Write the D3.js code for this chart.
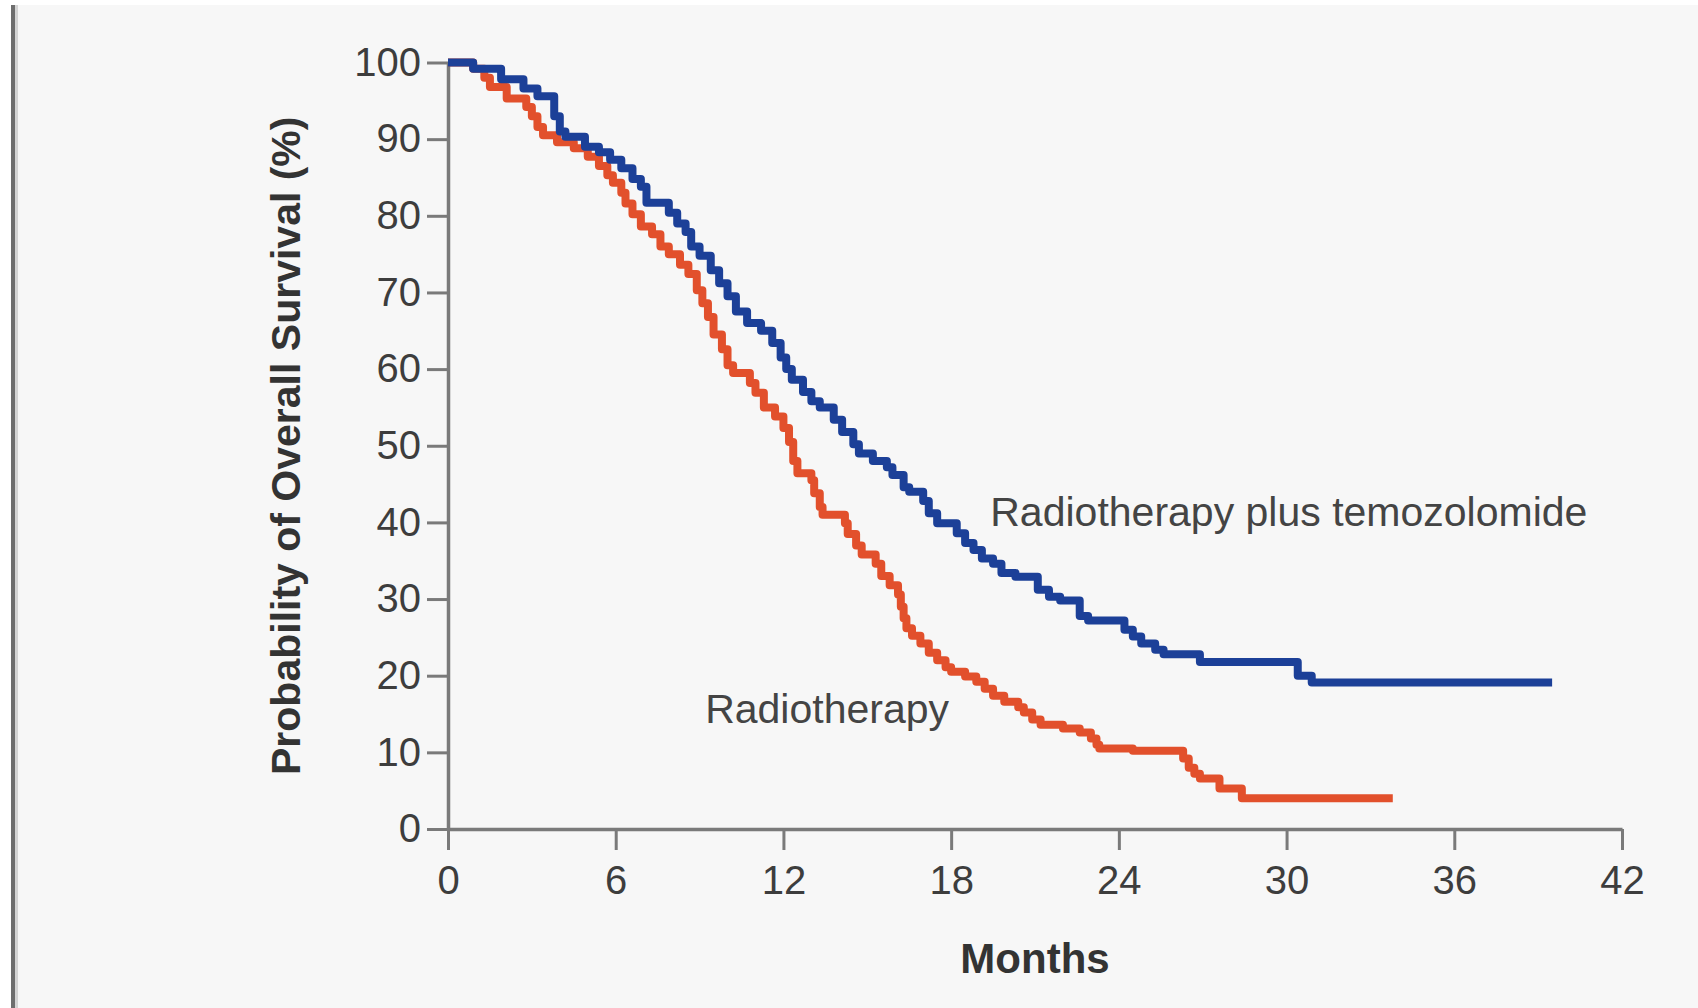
<!DOCTYPE html>
<html lang="en">
<head>
  <meta charset="UTF-8">
  <title>Overall Survival: Radiotherapy vs Radiotherapy plus Temozolomide</title>
  <script src="https://d3js.org/d3.v7.min.js"></script>
  <style>
    body {
      margin: 0;
      padding: 0;
      background: #ffffff;
      font-family: "Liberation Sans", Arial, sans-serif;
    }
    .tick text {
      fill: #3d3d3d;
    }
  </style>
</head>
<body>
  <div id="chart"></div>

  <script>
    // Kaplan-Meier steps: [month, % surviving from that month on]
    const rtTmz = [
      [0, 100], [0.9, 99.2], [1.9, 97.8], [2.7, 96.6], [3.2, 95.6], [3.8, 93.0], [4.0, 91.0],
      [4.2, 90.3], [4.9, 89.0], [5.4, 88.3], [5.8, 87.3], [6.2, 86.2], [6.6, 84.8], [6.9, 83.8],
      [7.1, 81.7], [7.9, 80.4], [8.2, 79.0], [8.5, 77.9], [8.7, 76.0], [9.0, 74.8], [9.4, 72.9],
      [9.7, 71.2], [10.0, 69.5], [10.3, 67.5], [10.7, 66.0], [11.2, 65.0], [11.6, 63.4],
      [11.9, 61.5], [12.1, 60.0], [12.3, 58.6], [12.7, 57.0], [13.0, 55.8], [13.3, 55.0],
      [13.8, 53.4], [14.1, 51.8], [14.5, 50.2], [14.7, 49.0], [15.2, 48.0], [15.7, 47.2],
      [15.9, 46.2], [16.3, 44.6], [16.5, 44.0], [17.0, 42.8], [17.2, 41.2], [17.5, 39.9],
      [18.2, 38.6], [18.5, 37.3], [18.8, 36.4], [19.1, 35.3], [19.5, 34.6], [19.8, 33.4],
      [20.3, 32.9], [21.1, 31.2], [21.5, 30.3], [21.9, 29.8], [22.6, 27.8], [22.9, 27.2],
      [24.2, 26.0], [24.5, 25.1], [24.8, 24.2], [25.3, 23.4], [25.6, 22.8], [26.9, 21.8],
      [30.4, 20.0], [30.9, 19.1], [39.5, 19.1]
    ];

    const rtOnly = [
      [0, 100], [0.9, 99.2], [1.3, 98.0], [1.5, 96.8], [2.1, 95.3], [2.8, 94.2], [3.0, 93.0],
      [3.2, 91.6], [3.4, 90.5], [3.9, 89.6], [4.5, 88.8], [5.0, 87.7], [5.4, 86.5], [5.7, 85.3],
      [5.9, 84.3], [6.2, 83.0], [6.35, 81.6], [6.6, 80.2], [6.9, 78.6], [7.3, 77.6], [7.6, 76.0],
      [7.9, 75.0], [8.3, 73.6], [8.6, 72.4], [8.9, 70.3], [9.1, 68.6], [9.3, 66.8], [9.5, 64.5],
      [9.8, 62.6], [10.0, 60.5], [10.2, 59.5], [10.8, 58.2], [11.0, 56.9], [11.3, 55.0],
      [11.7, 53.8], [12.0, 52.3], [12.2, 50.5], [12.35, 48.0], [12.5, 46.4], [13.0, 45.5],
      [13.1, 43.8], [13.3, 42.0], [13.4, 41.0], [14.2, 39.9], [14.3, 38.5], [14.6, 37.0],
      [14.8, 35.8], [15.3, 34.6], [15.5, 33.0], [15.8, 31.8], [16.1, 30.6], [16.2, 29.0],
      [16.3, 27.5], [16.4, 26.2], [16.6, 25.2], [16.9, 24.2], [17.2, 23.0], [17.5, 22.0],
      [17.8, 21.1], [18.0, 20.5], [18.5, 19.9], [18.9, 19.2], [19.2, 18.3], [19.5, 17.4],
      [19.9, 16.6], [20.4, 15.9], [20.6, 15.2], [20.9, 14.3], [21.2, 13.6], [22.0, 13.1],
      [22.6, 12.6], [23.0, 11.8], [23.2, 11.0], [23.3, 10.5], [24.5, 10.2], [26.3, 9.2],
      [26.5, 8.0], [26.7, 7.2], [26.9, 6.6], [27.6, 5.3], [28.4, 4.0], [33.8, 4.0]
    ];

    const monthTicks = [0, 6, 12, 18, 24, 30, 36, 42];
    const survivalTicks = [0, 10, 20, 30, 40, 50, 60, 70, 80, 90, 100];

    const seriesLabels = [
      { name: "Radiotherapy plus temozolomide", month: 19.4, value: 39.5 },
      { name: "Radiotherapy", month: 9.2, value: 13.8 }
    ];

    const width = 1698;
    const height = 1008;
    const margin = { top: 62.5, right: 76, bottom: 179, left: 448 };

    const svg = d3.select("#chart")
      .append("svg")
      .attr("width", width)
      .attr("height", height);

    // panel background and the grey rule on the left edge
    svg.append("rect")
      .attr("x", 11).attr("y", 5)
      .attr("width", width - 11).attr("height", height - 5)
      .attr("fill", "#f7f7f7");
    svg.append("rect")
      .attr("x", 11).attr("y", 5)
      .attr("width", 4).attr("height", height - 5)
      .attr("fill", "#6e6e6e");
    svg.append("rect")
      .attr("x", 15).attr("y", 5)
      .attr("width", 3).attr("height", height - 5)
      .attr("fill", "#d4d4d4");

    const x = d3.scaleLinear()
      .domain([0, 42])
      .range([margin.left, width - margin.right]);

    const y = d3.scaleLinear()
      .domain([0, 100])
      .range([height - margin.bottom, margin.top]);

    // axes
    const xAxis = svg.append("g")
      .attr("transform", `translate(0,${y(0)})`)
      .call(d3.axisBottom(x).tickValues(monthTicks).tickSize(21).tickSizeOuter(0).tickPadding(16));

    const yAxis = svg.append("g")
      .attr("transform", `translate(${x(0)},0)`)
      .call(d3.axisLeft(y).tickValues(survivalTicks).tickSize(21).tickSizeOuter(0).tickPadding(6));

    [xAxis, yAxis].forEach(ax => {
      ax.select(".domain").attr("stroke", "#7a7a7a").attr("stroke-width", 3.5);
      ax.selectAll(".tick line").attr("stroke", "#7a7a7a").attr("stroke-width", 3);
      ax.selectAll(".tick text")
        .style("font-family", "'Liberation Sans', Arial, sans-serif")
        .style("font-size", "40px");
    });

    // survival curves
    const line = d3.line()
      .x(d => x(d[0]))
      .y(d => y(d[1]))
      .curve(d3.curveStepAfter);

    svg.append("path")
      .datum(rtOnly)
      .attr("fill", "none")
      .attr("stroke", "#e2502c")
      .attr("stroke-width", 8)
      .attr("stroke-linejoin", "round")
      .attr("d", line);

    svg.append("path")
      .datum(rtTmz)
      .attr("fill", "none")
      .attr("stroke", "#1c4098")
      .attr("stroke-width", 8)
      .attr("stroke-linejoin", "round")
      .attr("d", line);

    // curve labels
    svg.selectAll(".series-label")
      .data(seriesLabels)
      .join("text")
      .attr("class", "series-label")
      .attr("x", d => x(d.month))
      .attr("y", d => y(d.value))
      .text(d => d.name)
      .style("font-size", "41px")
      .style("fill", "#444");

    // axis titles
    svg.append("text")
      .attr("x", x(21))
      .attr("y", 973)
      .attr("text-anchor", "middle")
      .style("font-size", "42px")
      .style("font-weight", "bold")
      .style("fill", "#333")
      .text("Months");

    svg.append("text")
      .attr("transform", `translate(300,${y(50)}) rotate(-90)`)
      .attr("text-anchor", "middle")
      .style("font-size", "41px")
      .style("font-weight", "bold")
      .style("fill", "#333")
      .text("Probability of Overall Survival (%)");
  </script>
</body>
</html>
